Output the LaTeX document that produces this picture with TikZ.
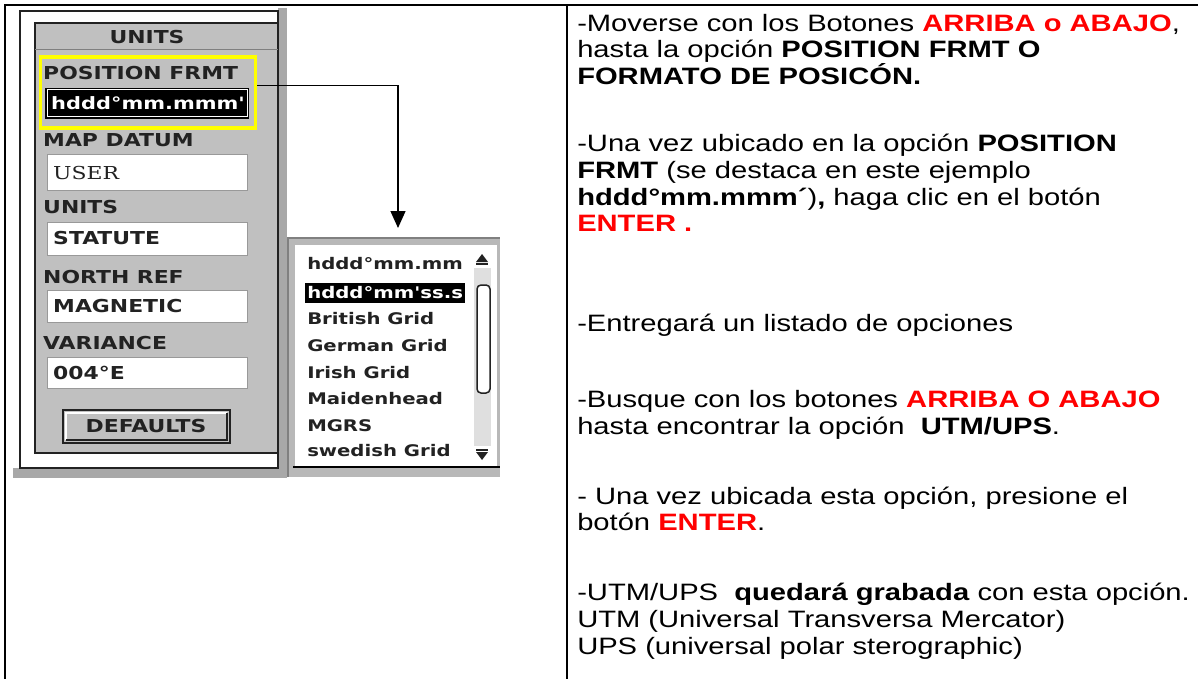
\documentclass[tikz,border=0pt]{standalone}
\usepackage{fontspec}
\setmainfont{Liberation Sans}
\newfontfamily\gpsfont{DejaVu Sans}
\newfontfamily\gpsserif{DejaVu Serif}
\usetikzlibrary{arrows.meta}
\definecolor{gpsgray}{HTML}{A8A8A8}
\definecolor{panelgray}{HTML}{C0C0C0}
\definecolor{listgray}{HTML}{B8B8B8}
\definecolor{gpsdark}{HTML}{222222}
\definecolor{hilite}{HTML}{FFFF00}
\tikzstyle{txt}=[anchor=base west, inner sep=0pt, font=\fontsize{23.7}{27}\selectfont, xscale=1.23]
\tikzstyle{lbl}=[anchor=base west, inner sep=0pt, text=gpsdark, font=\gpsfont\bfseries\fontsize{17.8}{20}\selectfont, xscale=1.23]
\tikzstyle{item}=[anchor=base west, inner sep=0pt, text=gpsdark, font=\gpsfont\bfseries\fontsize{16}{18}\selectfont, xscale=1.23]
\tikzstyle{field}=[fill=white, draw=gray!80, line width=1pt]
\tikzstyle{arr}=[line width=1.3pt, -{Triangle[width=15pt,length=17pt]}]
\newcommand{\rojo}[1]{\textcolor{red}{\textbf{#1}}}

\begin{document}
\begin{tikzpicture}[x=1pt, y=-1pt]
    \useasboundingbox (0,0) rectangle (1198,679);

    \draw[line width=2pt] (5,679) -- (5,5) -- (1198,5);
    \draw[line width=2pt] (567,5) -- (567,679);

    % GPS units page
    \fill[gpsgray] (13,8) rectangle (287,478);
    \fill[white] (13,8) rectangle (278,468);
    \draw[gpsdark, line width=1.5pt] (20,11) rectangle (278,468);
    \filldraw[fill=panelgray, draw=gpsdark, line width=1.5pt] (35,23) rectangle (278,453);
    \draw[gray, line width=1pt] (35,50) -- (278,50);
    \node[lbl, anchor=base] (hdr) at (147,43.5) {UNITS};

    \node[lbl] (posfrmt) at (43,79.5) {POSITION FRMT};
    \fill[black] (45,88) rectangle (249,119);
    \draw[white, line width=1pt] (47,90) rectangle (247,117);
    \node[lbl, text=white, font=\gpsfont\bfseries\fontsize{17}{20}\selectfont] (fmtval) at (51,110) {hddd°mm.mmm'};
    \node[draw=hilite, line width=3.5pt, minimum width=215pt, minimum height=71pt, anchor=north west, inner sep=0pt] (frmt) at (38.5,55.5) {};

    \node[lbl] (datum) at (43,146.5) {MAP DATUM};
    \draw[field] (47,155) rectangle (247,190);
    \node[lbl, font=\gpsserif\fontsize{17.8}{20}\selectfont] (datumval) at (53,179) {USER};

    \node[lbl] (units) at (43,213.5) {UNITS};
    \draw[field] (47,222) rectangle (247,255);
    \node[lbl] (unitsval) at (53,244.5) {STATUTE};

    \node[lbl] (north) at (43,283.5) {NORTH REF};
    \draw[field] (47,290) rectangle (247,322);
    \node[lbl] (northval) at (53,312.5) {MAGNETIC};

    \node[lbl] (var) at (43,349.5) {VARIANCE};
    \draw[field] (47,357) rectangle (247,388);
    \node[lbl] (varval) at (53,379.5) {004°E};

    \filldraw[fill=panelgray, draw=gpsdark, line width=1.5pt] (63,410) rectangle (230,443);
    \draw[white, line width=2pt] (66,440) |- (227,413);
    \draw[gpsdark, line width=2.5pt] (66,440) -| (227,413);
    \node[lbl, anchor=base] (defaults) at (146,432) {DEFAULTS};

    % option list
    \node[fill=listgray, minimum width=213pt, minimum height=240pt, anchor=north west, inner sep=0pt] (lista) at (287,237) {};
    \draw[gray, line width=2pt] (288,477) -- (288,238) -- (500,238);
    \fill[white] (295,245) rectangle (497,466);
    \draw[black, line width=1.5pt] (293,467) -- (500,467);
    \fill[gray!25] (474,268) rectangle (491,446);
    \fill[gpsdark] (476,262) -- (488,262) -- (482,254) -- cycle;
    \fill[gpsdark] (476,263) rectangle (488,265);
    \fill[gpsdark] (476,449) rectangle (488,451);
    \fill[gpsdark] (476,452) -- (488,452) -- (482,460) -- cycle;
    \draw[fill=white, draw=gpsdark, line width=1.5pt, rounded corners=4pt] (477,285) rectangle (490,393);

    \node[item] (op1) at (307,269) {hddd°mm.mm};
    \fill[black] (305,283) rectangle (465,303);
    \node[item, text=white] (op2) at (307,298) {hddd°mm'ss.s};
    \node[item] (op3) at (307,324) {British Grid};
    \node[item] (op4) at (307,351) {German Grid};
    \node[item] (op5) at (307,378) {Irish Grid};
    \node[item] (op6) at (307,404) {Maidenhead};
    \node[item] (op7) at (307,431) {MGRS};
    \node[item] (op8) at (307,456) {swedish Grid};

    \coordinate (tip) at (398,228);
    \draw[arr] ([yshift=7pt]frmt.east) -| (tip);

    % instructions
    \node[txt] (l1) at (577,31.5) {-Moverse con los Botones \rojo{ARRIBA o ABAJO},};
    \node[txt] (l2) at (577,57.5) {hasta la opción \textbf{POSITION FRMT O}};
    \node[txt] (l3) at (577,84.5) {\textbf{FORMATO DE POSICÓN.}};
    \node[txt] (l4) at (577,151.5) {-Una vez ubicado en la opción \textbf{POSITION}};
    \node[txt] (l5) at (577,178.5) {\textbf{FRMT} (se destaca en este ejemplo};
    \node[txt] (l6) at (577,205.5) {\textbf{hddd°mm.mmm´})\textbf{,} haga clic en el botón};
    \node[txt] (l7) at (577,231.5) {\rojo{ENTER .}};
    \node[txt] (l8) at (577,331.5) {-Entregará un listado de opciones};
    \node[txt] (l9) at (577,407.5) {-Busque con los botones \rojo{ARRIBA O ABAJO}};
    \node[txt] (l10) at (577,434.5) {hasta encontrar la opción\ \ \textbf{UTM/UPS}.};
    \node[txt] (l11) at (577,504.5) {- Una vez ubicada esta opción, presione el};
    \node[txt] (l12) at (577,530.5) {botón \rojo{ENTER}.};
    \node[txt] (l13) at (577,600.5) {-UTM/UPS\ \ \textbf{quedará grabada} con esta opción.};
    \node[txt] (l14) at (577,627.5) {UTM (Universal Transversa Mercator)};
    \node[txt] (l15) at (577,654.5) {UPS (universal polar sterographic)};
\end{tikzpicture}
\end{document}
